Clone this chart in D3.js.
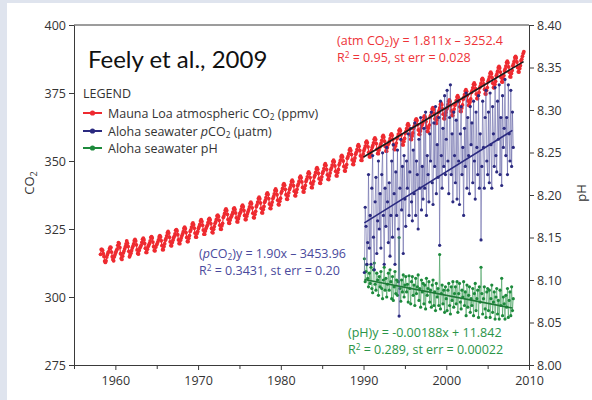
<!DOCTYPE html>
<html>
<head>
<meta charset="utf-8">
<script src="https://cdn.jsdelivr.net/npm/d3@7"></script>
<style>
  html, body { margin: 0; padding: 0; background: #dfe4ee; }
  svg { display: block; }
</style>
</head>
<body>
<svg id="chart" width="592" height="400"></svg>
<script>
// ---- axis ticks ----
const yearTicks = [1960, 1970, 1980, 1990, 2000, 2010];
const yearMinorTicks = [1955, 1965, 1975, 1985, 1995, 2005];
const co2Ticks = [275, 300, 325, 350, 375, 400];
const phTicks = [8.00, 8.05, 8.10, 8.15, 8.20, 8.25, 8.30, 8.35, 8.40];

// ---- Mauna Loa atmospheric CO2 (ppmv), monthly, starting March 1958 ----
const co2FirstYear = 1958;
const co2FirstMonth = 2; // March (0-based)
const maunaLoaCO2 = [
  315.7, 317.5, 317.5, 317.1, 315.9, 314.9, 313.2, 312.7, 313.3, 314.7,
  315.6, 316.4, 316.7, 317.7, 318.3, 318.2, 316.5, 314.8, 313.8, 313.3, 314.8, 315.6,
  316.4, 317.0, 317.6, 319.0, 320.0, 319.6, 318.2, 315.9, 314.2, 313.8, 315.0, 316.2,
  316.9, 317.7, 318.5, 319.5, 320.6, 319.8, 318.6, 316.8, 314.8, 315.4, 316.1, 317.0,
  318.0, 318.7, 319.5, 320.7, 321.2, 320.6, 319.2, 317.3, 316.0, 315.8, 317.1, 318.0,
  318.5, 319.1, 320.1, 321.2, 321.6, 321.0, 319.7, 317.9, 316.4, 316.4, 317.6, 318.6,
  319.1, 319.7, 320.6, 321.9, 322.2, 321.7, 320.2, 318.5, 317.1, 317.0, 318.3, 319.1,
  319.5, 320.2, 321.0, 322.1, 322.6, 322.1, 320.7, 318.9, 317.4, 317.4, 318.6, 319.6,
  320.9, 321.5, 322.5, 323.6, 324.1, 323.5, 322.0, 320.3, 318.9, 318.8, 320.0, 320.9,
  321.7, 322.3, 323.2, 324.5, 324.8, 324.3, 322.9, 321.0, 319.7, 319.6, 320.9, 321.7,
  322.5, 323.2, 324.0, 325.2, 325.7, 325.1, 323.7, 321.9, 320.4, 320.4, 321.6, 322.6,
  324.1, 324.7, 325.7, 326.8, 327.2, 326.6, 325.3, 323.5, 322.1, 322.0, 323.3, 324.1,
  325.2, 325.9, 326.7, 327.9, 328.4, 327.8, 326.4, 324.6, 323.1, 323.1, 324.3, 325.2,
  325.8, 326.4, 327.4, 328.5, 328.9, 328.3, 327.0, 325.2, 323.8, 323.6, 324.9, 325.9,
  327.0, 327.6, 328.5, 329.8, 330.1, 329.6, 328.2, 326.4, 325.0, 324.9, 326.2, 327.1,
  329.2, 329.8, 330.7, 331.9, 332.4, 331.8, 330.4, 328.5, 327.2, 327.1, 328.3, 329.2,
  329.7, 330.4, 331.2, 332.4, 332.8, 332.2, 330.9, 329.1, 327.7, 327.6, 328.8, 329.8,
  330.6, 331.2, 332.1, 333.3, 333.8, 333.2, 331.8, 330.0, 328.5, 328.5, 329.7, 330.6,
  331.4, 332.1, 333.1, 334.4, 334.9, 334.3, 332.8, 330.8, 329.2, 329.1, 330.4, 331.5,
  333.2, 333.9, 334.9, 336.2, 336.7, 336.1, 334.6, 332.6, 331.0, 330.9, 332.2, 333.3,
  334.8, 335.5, 336.5, 337.8, 338.3, 337.7, 336.2, 334.2, 332.6, 332.5, 333.8, 334.9,
  336.2, 336.9, 337.9, 339.2, 339.7, 339.1, 337.6, 335.6, 334.0, 333.9, 335.2, 336.3,
  338.2, 338.9, 339.9, 341.2, 341.7, 341.1, 339.6, 337.6, 336.0, 335.9, 337.2, 338.3,
  339.5, 340.2, 341.2, 342.5, 343.0, 342.4, 340.9, 338.9, 337.3, 337.2, 338.5, 339.6,
  340.9, 341.6, 342.6, 343.9, 344.4, 343.8, 342.3, 340.3, 338.7, 338.6, 339.9, 341.0,
  342.5, 343.2, 344.2, 345.5, 346.0, 345.4, 343.9, 341.9, 340.3, 340.2, 341.5, 342.6,
  344.1, 344.8, 345.8, 347.1, 347.6, 347.0, 345.5, 343.5, 341.9, 341.8, 343.1, 344.2,
  345.5, 346.2, 347.2, 348.5, 349.0, 348.4, 346.9, 344.9, 343.3, 343.2, 344.5, 345.6,
  346.8, 347.5, 348.5, 349.8, 350.3, 349.7, 348.2, 346.2, 344.6, 344.5, 345.8, 346.9,
  348.6, 349.3, 350.3, 351.6, 352.1, 351.5, 350.0, 348.0, 346.4, 346.3, 347.6, 348.7,
  351.0, 351.7, 352.7, 354.0, 354.5, 353.9, 352.4, 350.4, 348.8, 348.7, 350.0, 351.1,
  352.5, 353.2, 354.2, 355.5, 356.0, 355.4, 353.9, 351.9, 350.3, 350.2, 351.5, 352.6,
  353.8, 354.5, 355.5, 356.8, 357.3, 356.7, 355.2, 353.2, 351.6, 351.5, 352.8, 353.9,
  355.0, 355.7, 356.7, 358.0, 358.5, 357.9, 356.4, 354.4, 352.8, 352.7, 354.0, 355.1,
  355.9, 356.6, 357.6, 358.9, 359.4, 358.8, 357.3, 355.3, 353.7, 353.6, 354.9, 356.0,
  356.5, 357.2, 358.2, 359.5, 360.0, 359.4, 357.9, 355.9, 354.3, 354.2, 355.5, 356.6,
  358.2, 358.9, 359.9, 361.2, 361.7, 361.1, 359.6, 357.6, 356.0, 355.9, 357.2, 358.3,
  360.2, 360.9, 361.9, 363.2, 363.7, 363.1, 361.6, 359.6, 358.0, 357.9, 359.2, 360.3,
  362.0, 362.7, 363.7, 365.0, 365.5, 364.9, 363.4, 361.4, 359.8, 359.7, 361.0, 362.1,
  363.1, 363.8, 364.8, 366.1, 366.6, 366.0, 364.5, 362.5, 360.9, 360.8, 362.1, 363.2,
  366.1, 366.8, 367.8, 369.1, 369.6, 369.0, 367.5, 365.5, 363.9, 363.8, 365.1, 366.2,
  367.8, 368.5, 369.5, 370.8, 371.3, 370.7, 369.2, 367.2, 365.6, 365.5, 366.8, 367.9,
  369.0, 369.7, 370.7, 372.0, 372.5, 371.9, 370.4, 368.4, 366.8, 366.7, 368.0, 369.1,
  370.5, 371.2, 372.2, 373.5, 374.0, 373.4, 371.9, 369.9, 368.3, 368.2, 369.5, 370.6,
  372.7, 373.4, 374.4, 375.7, 376.2, 375.6, 374.1, 372.1, 370.5, 370.4, 371.7, 372.8,
  375.2, 375.9, 376.9, 378.2, 378.7, 378.1, 376.6, 374.6, 373.0, 372.9, 374.2, 375.3,
  376.9, 377.6, 378.6, 379.9, 380.4, 379.8, 378.3, 376.3, 374.7, 374.6, 375.9, 377.0,
  379.2, 379.9, 380.9, 382.2, 382.7, 382.1, 380.6, 378.6, 377.0, 376.9, 378.2, 379.3,
  381.3, 382.0, 383.0, 384.3, 384.8, 384.2, 382.7, 380.7, 379.1, 379.0, 380.3, 381.4,
  383.2, 383.9, 384.9, 386.2, 386.7, 386.1, 384.6, 382.6, 381.0, 380.9, 382.2, 383.3,
  385.0, 385.7, 386.7, 388.0, 388.5, 387.9, 386.4, 384.4, 382.8, 382.7, 384.0, 385.1,
  386.9, 387.4, 388.5, 389.5, 390.2
];

// ---- Station ALOHA (HOT) cruises, roughly ten per year ----
const hotFirstYear = 1990.1;
const hotStep = 0.1;
const alohaPCO2 = [
  309, 333, 326, 312, 320, 345, 318, 330, 312, 340,
  352, 322, 310, 335, 344, 316, 328, 350, 325, 338,
  318, 345, 353, 330, 312, 340, 326, 355, 335, 320,
  342, 315, 330, 350, 322, 356, 338, 312, 346, 330,
  354, 325, 293, 340, 358, 332, 348, 316, 352, 336,
  326, 350, 340, 360, 330, 346, 362, 335, 328, 354,
  338, 364, 330, 350, 345, 325, 358, 340, 366, 332,
  348, 336, 362, 340, 368, 330, 352, 345, 335, 360,
  350, 368, 342, 334, 364, 348, 370, 338, 356, 344,
  366, 319, 372, 352, 340, 362, 348, 374, 345, 358,
  376, 350, 338, 366, 378, 345, 360, 335, 368, 352,
  342, 365, 336, 372, 350, 334, 360, 370, 345, 355,
  330, 362, 348, 375, 340, 366, 352, 338, 370, 356,
  364, 342, 372, 350, 336, 368, 355, 345, 374, 340,
  360, 321, 348, 372, 355, 340, 366, 376, 350, 345,
  368, 342, 375, 356, 340, 370, 360, 348, 377, 352,
  346, 372, 358, 378, 345, 366, 341, 374, 355, 362,
  380, 352, 366, 345, 378, 360, 350, 376, 348, 368,
  355
];
const alohaPH = [
  8.125, 8.098, 8.110, 8.118, 8.102, 8.092, 8.108, 8.096, 8.115, 8.090,
  8.085, 8.112, 8.120, 8.095, 8.088, 8.108, 8.100, 8.082, 8.104, 8.092,
  8.110, 8.090, 8.078, 8.100, 8.115, 8.088, 8.102, 8.080, 8.095, 8.108,
  8.088, 8.112, 8.098, 8.078, 8.104, 8.076, 8.092, 8.110, 8.084, 8.100,
  8.082, 8.098, 8.150, 8.090, 8.075, 8.100, 8.086, 8.106, 8.080, 8.094,
  8.104, 8.086, 8.095, 8.074, 8.105, 8.090, 8.072, 8.098, 8.104, 8.082,
  8.094, 8.070, 8.102, 8.084, 8.092, 8.106, 8.076, 8.090, 8.068, 8.100,
  8.086, 8.096, 8.072, 8.094, 8.066, 8.102, 8.082, 8.090, 8.098, 8.074,
  8.088, 8.068, 8.094, 8.100, 8.070, 8.086, 8.064, 8.096, 8.080, 8.090,
  8.070, 8.130, 8.066, 8.084, 8.094, 8.072, 8.088, 8.062, 8.092, 8.078,
  8.064, 8.088, 8.096, 8.070, 8.060, 8.092, 8.076, 8.098, 8.068, 8.084,
  8.092, 8.072, 8.098, 8.062, 8.084, 8.096, 8.074, 8.066, 8.088, 8.080,
  8.098, 8.070, 8.086, 8.058, 8.094, 8.068, 8.082, 8.092, 8.062, 8.078,
  8.070, 8.090, 8.058, 8.084, 8.096, 8.064, 8.078, 8.088, 8.056, 8.092,
  8.074, 8.115, 8.084, 8.060, 8.078, 8.092, 8.066, 8.056, 8.086, 8.090,
  8.064, 8.088, 8.056, 8.078, 8.094, 8.062, 8.074, 8.086, 8.054, 8.080,
  8.090, 8.060, 8.076, 8.054, 8.088, 8.070, 8.102, 8.058, 8.080, 8.072,
  8.054, 8.082, 8.068, 8.090, 8.056, 8.076, 8.086, 8.058, 8.092, 8.064,
  8.078
];

// ---- linear fits: [slope, intercept] and the years they span ----
const fitAtmCO2 = [1.811, -3252.4];
const fitAtmSpan = [1990.0, 2009.35];
const fitPCO2 = [1.90, -3453.96];
const fitPH = [-0.00188, 11.842];
const fitHotSpan = [1990.1, 2008.0];

// ---- colours ----
const RED = "#ee2a30", BLUE = "#2b2a80", GREEN = "#1d8a3c";
const AXIS = "#3a3a3a", LABEL = "#333";
const FONT = "'Open Sans', 'Noto Sans', sans-serif";

const svg = d3.select("#chart");
const W = 592, H = 400;
const plot = { left: 74, right: 529, top: 25, bottom: 365 };

svg.append("rect").attr("x", 7).attr("y", 3).attr("width", W - 7).attr("height", H - 3).attr("fill", "#fff");

const x = d3.scaleLinear().domain([1955, 2010]).range([plot.left, plot.right]);
const yCO2 = d3.scaleLinear().domain([275, 400]).range([plot.bottom, plot.top]);
const yPH = d3.scaleLinear().domain([8.00, 8.40]).range([plot.bottom, plot.top]);

// ---- series as point records ----
const co2Series = maunaLoaCO2.map((v, i) => ({
  t: co2FirstYear + (co2FirstMonth + i + 0.5) / 12, v
}));
const pco2Series = alohaPCO2.map((v, i) => ({ t: hotFirstYear + i * hotStep, v }));
const phSeries = alohaPH.map((v, i) => ({ t: hotFirstYear + i * hotStep, v }));

function drawSeries(data, yScale, lineColor, dotColor, lineWidth, lineOpacity, r) {
  const g = svg.append("g");
  g.append("path")
    .datum(data)
    .attr("fill", "none")
    .attr("stroke", lineColor)
    .attr("stroke-width", lineWidth)
    .attr("stroke-opacity", lineOpacity)
    .attr("d", d3.line().x(d => x(d.t)).y(d => yScale(d.v)));
  g.selectAll("circle").data(data).join("circle")
    .attr("cx", d => x(d.t)).attr("cy", d => yScale(d.v))
    .attr("r", r).attr("fill", dotColor);
}

drawSeries(co2Series, yCO2, RED, RED, 1.2, 1, 1.9);
drawSeries(phSeries, yPH, "#3a9a55", GREEN, 0.8, 0.75, 1.6);
drawSeries(pco2Series, yCO2, "#5a5aa0", BLUE, 0.8, 0.7, 1.6);

// ---- regression lines ----
function fitLine(coef, span, yScale, color) {
  const pts = span.map(t => ({ t, v: coef[0] * t + coef[1] }));
  svg.append("path").datum(pts)
    .attr("fill", "none").attr("stroke", color).attr("stroke-width", 1.6)
    .attr("d", d3.line().x(d => x(d.t)).y(d => yScale(d.v)));
}
fitLine(fitAtmCO2, fitAtmSpan, yCO2, "#1a1a1a");
fitLine(fitPCO2, fitHotSpan, yCO2, "#2b2a80");
fitLine(fitPH, fitHotSpan, yPH, "#1d7a36");

// ---- axes ----
function styleAxis(g) {
  g.selectAll("path, line").attr("stroke", AXIS).attr("stroke-width", 1);
  g.selectAll("text").attr("fill", LABEL).style("font-family", FONT).style("font-size", "12.5px");
}
svg.append("g").attr("transform", `translate(${plot.left},0)`)
  .call(d3.axisLeft(yCO2).tickValues(co2Ticks).tickSize(5).tickSizeOuter(0).tickPadding(3))
  .call(styleAxis);
svg.append("g").attr("transform", `translate(${plot.right},0)`)
  .call(d3.axisRight(yPH).tickValues(phTicks).tickSize(5).tickSizeOuter(0).tickPadding(3)
    .tickFormat(d3.format(".2f")))
  .call(styleAxis);
svg.append("g").attr("transform", `translate(0,${plot.bottom})`)
  .call(d3.axisBottom(x).tickValues(yearTicks).tickSize(5).tickSizeOuter(0).tickPadding(6)
    .tickFormat(d3.format("d")))
  .call(styleAxis);
svg.append("g").attr("transform", `translate(0,${plot.bottom})`)
  .call(d3.axisBottom(x).tickValues(yearMinorTicks).tickSize(4).tickSizeOuter(0).tickFormat(""))
  .call(styleAxis);
svg.append("line")
  .attr("x1", plot.left).attr("x2", plot.right).attr("y1", plot.top).attr("y2", plot.top)
  .attr("stroke", AXIS).attr("stroke-width", 1);

// ---- axis titles ----
const co2Title = svg.append("text")
  .attr("transform", "translate(34,183) rotate(-90)")
  .attr("text-anchor", "middle").attr("fill", LABEL)
  .style("font-family", FONT).style("font-size", "13px");
co2Title.append("tspan").text("CO");
co2Title.append("tspan").attr("dy", 3).style("font-size", "9px").text("2");

svg.append("text")
  .attr("transform", "translate(586,193) rotate(-90)")
  .attr("text-anchor", "middle").attr("fill", LABEL)
  .style("font-family", FONT).style("font-size", "13px")
  .text("pH");

// ---- citation ----
svg.append("text").attr("x", 88).attr("y", 68)
  .attr("fill", "#111").style("font-family", "Lato, 'Open Sans', sans-serif").style("font-size", "24px")
  .text("Feely et al., 2009");

// ---- legend ----
const legendItems = [
  { color: RED, parts: [["Mauna Loa atmospheric CO"], ["2", "sub"], [" (ppmv)"]] },
  { color: BLUE, parts: [["Aloha seawater "], ["p", "it"], ["CO"], ["2", "sub"], [" (µatm)"]] },
  { color: GREEN, parts: [["Aloha seawater pH"]] }
];
svg.append("text").attr("x", 83).attr("y", 98).attr("fill", LABEL)
  .style("font-family", FONT).style("font-size", "12.5px").text("LEGEND");

function richText(sel, parts) {
  let shift = 0;
  parts.forEach(([s, kind]) => {
    const t = sel.append("tspan").text(s);
    let dy = 0;
    if (kind === "sub") { dy = 2; t.style("font-size", "0.66em"); }
    else if (kind === "sup") { dy = -4; t.style("font-size", "0.66em"); }
    else if (kind === "it") t.style("font-style", "italic");
    // return to the baseline after a raised or lowered run
    const move = dy - shift;
    if (move !== 0) t.attr("dy", move);
    shift = dy;
  });
}

const legendRows = [113, 131, 148];
legendItems.forEach((item, i) => {
  const cy = legendRows[i];
  svg.append("line").attr("x1", 83).attr("x2", 102).attr("y1", cy).attr("y2", cy)
    .attr("stroke", item.color).attr("stroke-width", 2);
  svg.append("circle").attr("cx", 92.5).attr("cy", cy).attr("r", 2.6).attr("fill", item.color);
  const t = svg.append("text").attr("x", 108).attr("y", cy + 4.5).attr("fill", LABEL)
    .style("font-family", FONT).style("font-size", "12.5px");
  richText(t, item.parts);
});

// ---- fit annotations ----
const notes = [
  { x: 337, y: 45, color: "#ee3338",
    lines: [
      [["(atm CO"], ["2", "sub"], [")y = 1.811x \u2013 3252.4"]],
      [["R"], ["2", "sup"], [" = 0.95, st err = 0.028"]]
    ] },
  { x: 199, y: 258, color: "#4a4a9c",
    lines: [
      [["("], ["p", "it"], ["CO"], ["2", "sub"], [")y = 1.90x \u2013 3453.96"]],
      [["R"], ["2", "sup"], [" = 0.3431, st err = 0.20"]]
    ] },
  { x: 348, y: 337, color: "#2a9448",
    lines: [
      [["(pH)y = -0.00188x + 11.842"]],
      [["R"], ["2", "sup"], [" = 0.289, st err = 0.00022"]]
    ] }
];
notes.forEach(n => {
  n.lines.forEach((parts, i) => {
    const t = svg.append("text").attr("x", n.x).attr("y", n.y + i * 17).attr("fill", n.color)
      .style("font-family", FONT).style("font-size", "12.5px");
    richText(t, parts);
  });
});
</script>
</body>
</html>
